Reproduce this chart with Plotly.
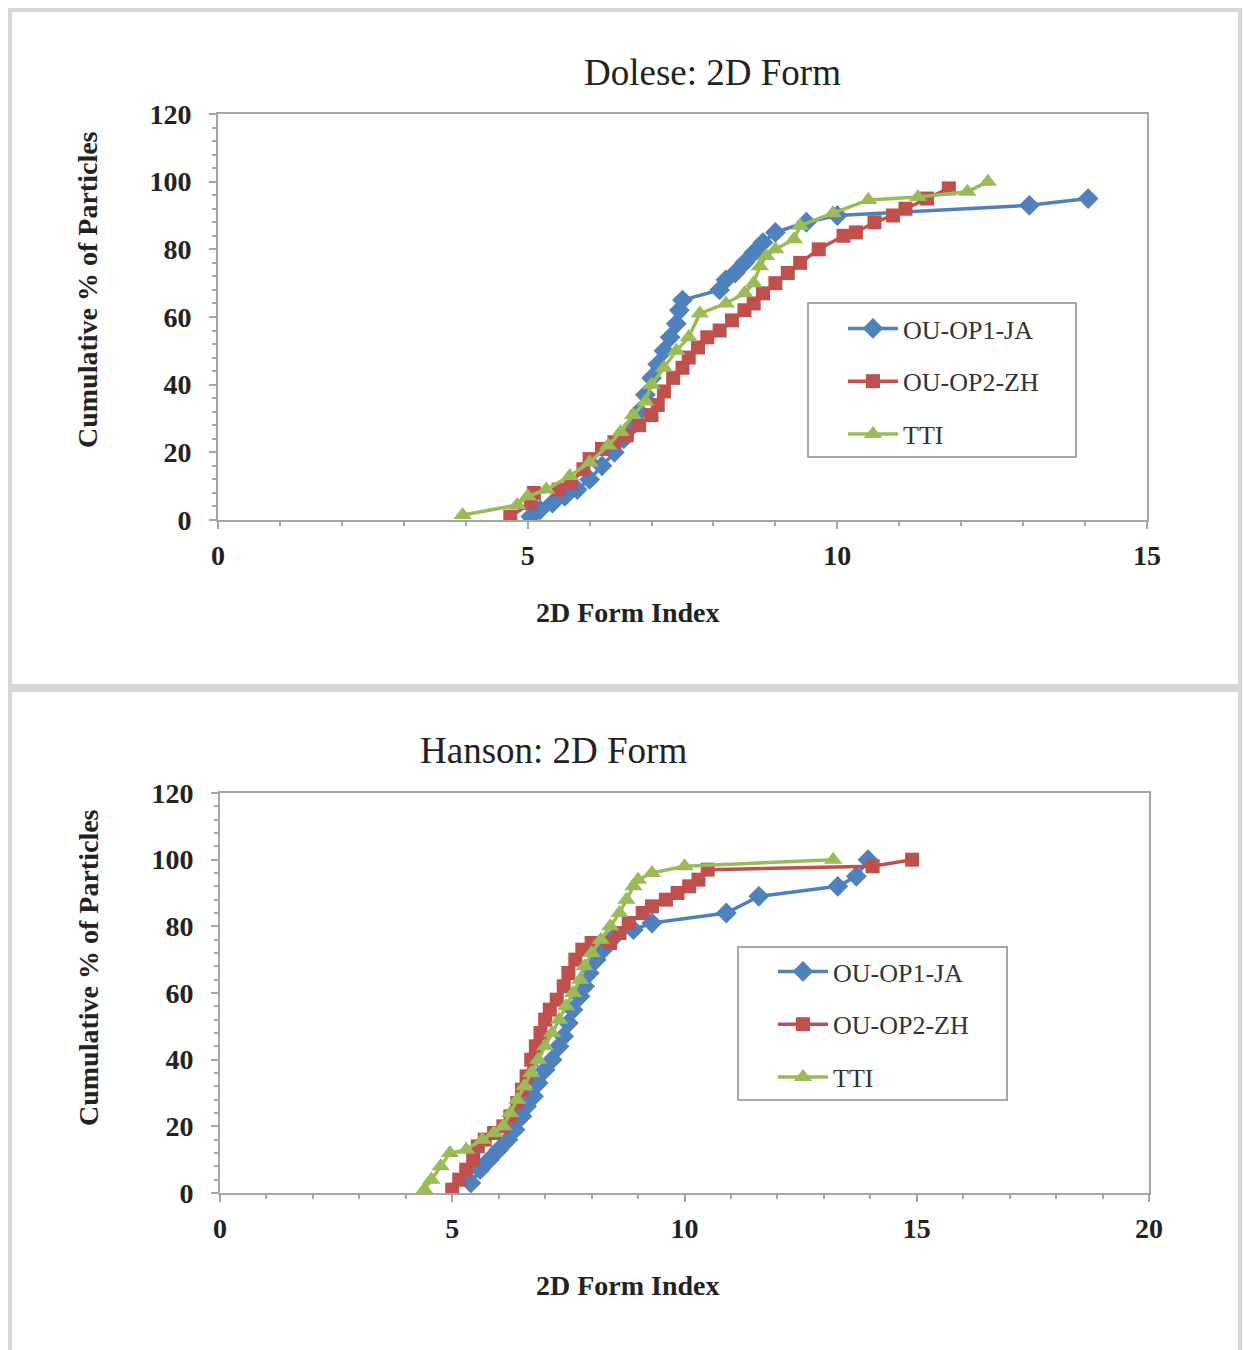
import plotly.graph_objects as go

W, H = 1244, 1350

# ---------------- data: Dolese (top) ----------------
dol_ja_x = [5.05, 5.2, 5.4, 5.6, 5.8, 6.0, 6.2, 6.4, 6.55, 6.7, 6.8, 6.9, 7.0, 7.1, 7.2, 7.3, 7.4, 7.45, 7.5,
            8.1, 8.2, 8.35, 8.5, 8.65, 8.8, 9.0, 9.5, 10.0, 13.1, 14.05]
dol_ja_y = [1, 3, 5, 7, 9, 12, 16, 20, 24, 28, 32, 37, 42, 46, 50, 54, 58, 62, 65,
            68, 71, 73, 76, 79, 82, 85, 88, 90, 93, 95]

dol_zh_x = [4.72, 5.05, 5.1, 5.5, 5.7, 5.9, 6.0, 6.2, 6.4, 6.6, 6.8, 7.0, 7.1, 7.2, 7.35, 7.5, 7.6, 7.75, 7.9,
            8.1, 8.3, 8.5, 8.65, 8.8, 9.0, 9.2, 9.4, 9.7, 10.1, 10.3, 10.6, 10.9, 11.1, 11.45, 11.8]
dol_zh_y = [1, 5, 8, 9, 11, 15, 18, 21, 23, 25, 28, 31, 34, 38, 42, 45, 48, 51, 54,
            56, 59, 62, 64, 67, 70, 73, 76, 80, 84, 85, 88, 90, 92, 95, 98]

dol_tti_x = [3.95, 4.83, 5.0, 5.3, 5.68, 6.0, 6.3, 6.5, 6.7, 6.9, 7.0, 7.2, 7.4, 7.6, 7.78,
             8.2, 8.5, 8.65, 8.75, 8.85, 9.0, 9.3, 9.4, 9.93, 10.5, 11.3, 12.1, 12.43]
dol_tti_y = [1.5, 4.4, 7, 9, 13, 17, 22, 26, 31, 35, 40, 45, 50, 54, 61,
             64, 67, 70, 75, 78, 80, 83, 87, 90.7, 94.6, 95.5, 97, 100]

# ---------------- data: Hanson (bottom) ----------------
han_ja_x = [5.4, 5.6, 5.8, 6.0, 6.2, 6.35, 6.5, 6.6, 6.75, 6.85, 7.0, 7.15, 7.3, 7.4, 7.5, 7.6, 7.75, 7.85,
            7.95, 8.1, 8.25, 8.5, 8.9, 9.3, 10.9, 11.6, 13.3, 13.7, 13.95]
han_ja_y = [3, 7, 10, 13, 16, 19, 23, 26, 29, 33, 37, 40, 44, 47, 51, 55, 59, 62,
            66, 70, 73, 77, 79, 81, 84, 89, 92, 95, 100]

han_zh_x = [5.0, 5.15, 5.3, 5.45, 5.55, 5.7, 5.9, 6.1, 6.25, 6.4, 6.5, 6.6, 6.7, 6.8, 6.9, 7.0, 7.1, 7.25,
            7.4, 7.5, 7.65, 7.8, 8.0, 8.4, 8.6, 8.8, 9.1, 9.3, 9.6, 9.85, 10.1, 10.3, 10.5, 14.05, 14.9]
han_zh_y = [1, 4, 7, 10, 14, 16, 18, 20, 23, 27, 31, 35, 40, 44, 48, 52, 55, 58,
            62, 66, 70, 73, 75, 75, 78, 81, 84, 86, 88, 90, 92, 94, 97, 98, 100]

han_tti_x = [4.4, 4.55, 4.75, 4.95, 5.3, 5.65, 5.9, 6.1, 6.25, 6.4, 6.55, 6.7, 6.85, 7.0, 7.15, 7.3, 7.45,
             7.6, 7.75, 7.85, 8.0, 8.2, 8.4, 8.6, 8.75, 8.9, 9.0, 9.3, 10.0, 13.2]
han_tti_y = [1, 4, 8, 12, 13, 16, 18, 20, 24, 28, 32, 36, 40, 44, 48, 52, 56,
             60, 64, 68, 72, 76, 80, 84, 88, 92, 94, 96, 98, 100]

series_names = ["OU-OP1-JA", "OU-OP2-ZH", "TTI"]
colors = ["#4F81BD", "#C0504D", "#9BBB59"]
symbols = ["diamond", "square", "triangle-up"]
sizes = [16, 14, 16]

SERIF = "Liberation Serif, Times New Roman, serif"

fig = go.Figure()

def add_series(xs, ys, i, xa, ya, legend):
    fig.add_trace(go.Scatter(
        x=xs, y=ys, mode="lines+markers", name=series_names[i],
        xaxis=xa, yaxis=ya, legend=legend, legendgroup=legend + str(i),
        line=dict(color=colors[i], width=3.5),
        marker=dict(symbol=symbols[i], size=sizes[i], color=colors[i],
                    line=dict(width=0)),
    ))

for i, (xs, ys) in enumerate([(dol_ja_x, dol_ja_y), (dol_zh_x, dol_zh_y), (dol_tti_x, dol_tti_y)]):
    add_series(xs, ys, i, "x", "y", "legend")
for i, (xs, ys) in enumerate([(han_ja_x, han_ja_y), (han_zh_x, han_zh_y), (han_tti_x, han_tti_y)]):
    add_series(xs, ys, i, "x2", "y2", "legend2")

def px_x(p):
    return p / W

def px_y(p):
    return 1 - p / H

axis_common = dict(
    showgrid=False, zeroline=False, showline=True, linecolor="#a6a6a6", linewidth=2,
    mirror=True, ticks="outside", ticklen=7, tickcolor="#a6a6a6", tickwidth=2,
    tickfont=dict(family=SERIF, size=28, color="#222", weight="bold"),
    automargin=False,
)

fig.update_layout(
    template="none",
    width=W, height=H, autosize=False,
    margin=dict(l=0, r=0, t=0, b=0, pad=0, autoexpand=False),
    paper_bgcolor="white", plot_bgcolor="white",
    xaxis=dict(domain=[px_x(218), px_x(1147)], range=[0, 15], dtick=5, anchor="y",
               minor=dict(dtick=1, ticks="outside", ticklen=4, tickcolor="#a6a6a6"),
               ticklabelstandoff=2, **axis_common),
    yaxis=dict(domain=[px_y(520), px_y(114)], range=[0, 120], dtick=20, anchor="x",
               minor=dict(dtick=4, ticks="outside", ticklen=4, tickcolor="#a6a6a6"),
               ticklabelstandoff=12, **axis_common),
    xaxis2=dict(domain=[px_x(220), px_x(1149)], range=[0, 20], dtick=5, anchor="y2",
                minor=dict(dtick=1, ticks="outside", ticklen=4, tickcolor="#a6a6a6"),
                ticklabelstandoff=2, **axis_common),
    yaxis2=dict(domain=[px_y(1193), px_y(793)], range=[0, 120], dtick=20, anchor="x2",
                minor=dict(dtick=4, ticks="outside", ticklen=4, tickcolor="#a6a6a6"),
                ticklabelstandoff=12, **axis_common),
    legend=dict(x=px_x(843), y=px_y(305), xanchor="left", yanchor="top",
                bgcolor="rgba(0,0,0,0)", borderwidth=0,
                font=dict(family=SERIF, size=26, color="#333"),
                tracegroupgap=16, itemwidth=50),
    legend2=dict(x=px_x(773), y=px_y(948), xanchor="left", yanchor="top",
                 bgcolor="rgba(0,0,0,0)", borderwidth=0,
                 font=dict(family=SERIF, size=26, color="#333"),
                 tracegroupgap=16, itemwidth=50),
    showlegend=True,
)

# panel frames and legend boxes
shapes = [
    dict(type="rect", xref="paper", yref="paper", x0=px_x(10), x1=px_x(1240), y0=px_y(686), y1=px_y(10),
         line=dict(color="#d6d6d6", width=4), fillcolor="rgba(0,0,0,0)", layer="below"),
    dict(type="rect", xref="paper", yref="paper", x0=px_x(10), x1=px_x(1240), y0=px_y(1356), y1=px_y(690),
         line=dict(color="#d6d6d6", width=4), fillcolor="rgba(0,0,0,0)", layer="below"),
    dict(type="rect", xref="paper", yref="paper", x0=px_x(10), x1=px_x(1240), y0=px_y(690), y1=px_y(685),
         line=dict(width=0), fillcolor="#d6d6d6", layer="below"),
    dict(type="rect", xref="paper", yref="paper", x0=px_x(808), x1=px_x(1076), y0=px_y(457), y1=px_y(303),
         line=dict(color="#a0a8b0", width=2), fillcolor="white", layer="below"),
    dict(type="rect", xref="paper", yref="paper", x0=px_x(738), x1=px_x(1007), y0=px_y(1100), y1=px_y(947),
         line=dict(color="#a0a8b0", width=2), fillcolor="white", layer="below"),
]
fig.update_layout(shapes=shapes)

annotations = [
    dict(text="Dolese: 2D Form", x=px_x(712), y=px_y(73), font=dict(family=SERIF, size=37, color="#222")),
    dict(text="Hanson: 2D Form", x=px_x(553), y=px_y(750), font=dict(family=SERIF, size=37, color="#222")),
    dict(text="<b>2D Form Index</b>", x=px_x(628), y=px_y(612), font=dict(family=SERIF, size=28, color="#222")),
    dict(text="<b>2D Form Index</b>", x=px_x(628), y=px_y(1285), font=dict(family=SERIF, size=28, color="#222")),
    dict(text="<b>Cumulative % of Particles</b>", x=px_x(88), y=px_y(290), textangle=-90,
         font=dict(family=SERIF, size=28, color="#222")),
    dict(text="<b>Cumulative % of Particles</b>", x=px_x(88), y=px_y(968), textangle=-90,
         font=dict(family=SERIF, size=28, color="#222")),
]
for a in annotations:
    a.update(xref="paper", yref="paper", showarrow=False, xanchor="center", yanchor="middle")
fig.update_layout(annotations=annotations)

fig.write_html(
    "out.html",
    config={"displayModeBar": False},
    post_script="document.body.style.margin='0';document.body.style.padding='0';"
                "document.documentElement.style.overflow='hidden';",
)
